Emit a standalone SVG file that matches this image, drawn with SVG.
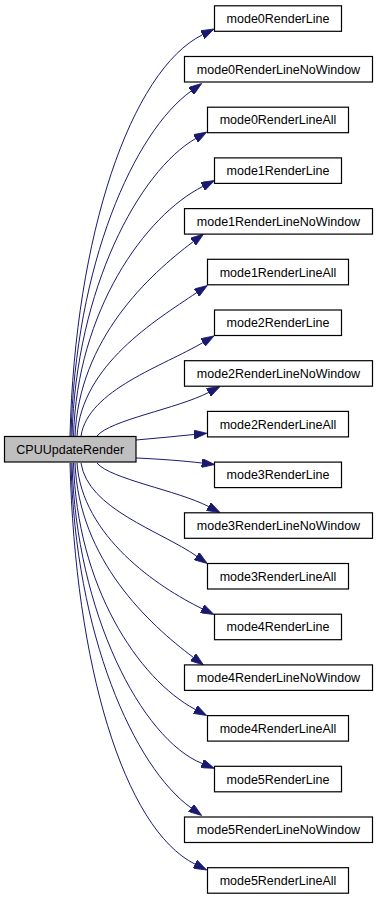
<svg xmlns="http://www.w3.org/2000/svg" width="377" height="899" viewBox="0 0 377 899">
  <style>
    .node rect { fill: #ffffff; stroke: #000000; stroke-width: 1.2; }
    .node.root rect { fill: #bfbfbf; }
    .node text { font-family: "Liberation Sans", Arial, sans-serif; font-size: 12.5px; fill: #000000; text-anchor: middle; }
    .edges path { fill: none; stroke: #191970; stroke-width: 1; marker-end: url(#arrow); }
  </style>
  <defs>
    <marker id="arrow" markerUnits="userSpaceOnUse" viewBox="0 0 14 9" markerWidth="14" markerHeight="9" refX="0" refY="4.5" orient="auto">
      <path d="M0,0 L13,4.5 L0,9 Z" fill="#191970" stroke="#191970" stroke-width="0.8"/>
    </marker>
  </defs>
  <rect width="377" height="899" fill="#ffffff"/>

  <!-- call edges -->
  <g id="edges" class="edges">
    <path d="M70,436 C75,235 130.9,70.6 202.4,34.8"/>
    <path d="M71,436 C75,264 134.3,131.9 191.1,91.1"/>
    <path d="M72,436 C76,288 139.3,171.4 195.5,138.6"/>
    <path d="M73.5,436 C77,311 144.9,215.6 202.9,186.4"/>
    <path d="M75,436 C79,339 149.1,274.8 193.1,241.8"/>
    <path d="M77,436 C82,365 155,320.7 196.5,292.8"/>
    <path d="M81,436 C88,390 164.1,365.6 202.8,342.6"/>
    <path d="M97,436 C110,420 177.5,408.6 208.5,392.5"/>
    <path d="M136,440 C155,438.5 175,436.3 193.9,434.5"/>
    <path d="M136,458 C160,459 185,461 201.8,463"/>
    <path d="M97,463 C110,479 177.5,490.4 208.5,506.5"/>
    <path d="M81,463 C88,509 159.7,530.5 196.6,556.1"/>
    <path d="M77,463 C82,536 157.4,586.9 202.3,608.8"/>
    <path d="M75,463 C79,560 149.1,624.2 193.1,657.2"/>
    <path d="M73.5,463 C77,586 137.9,678.8 195.2,709.4"/>
    <path d="M72,463 C76,613 141.8,739.4 202.2,763.5"/>
    <path d="M71,463 C75,635 134.3,767.1 191.1,807.9"/>
    <path d="M70,463 C75,664 123.6,828.4 195.1,864.2"/>
  </g>

  <g id="CPUUpdateRender" class="node root">
    <rect x="4.5" y="436.5" width="131.5" height="25.5"/>
    <text x="70.2" y="454">CPUUpdateRender</text>
  </g>

  <g id="mode0RenderLine" class="node">
    <rect x="214.5" y="5.8" width="127" height="25.5"/>
    <text x="278" y="23">mode0RenderLine</text>
  </g>
  <g id="mode0RenderLineNoWindow" class="node">
    <rect x="184.5" y="56.5" width="188" height="25.5"/>
    <text x="278.5" y="73.7">mode0RenderLineNoWindow</text>
  </g>
  <g id="mode0RenderLineAll" class="node">
    <rect x="207.5" y="107.2" width="141" height="25.5"/>
    <text x="278" y="124.4">mode0RenderLineAll</text>
  </g>

  <g id="mode1RenderLine" class="node">
    <rect x="214.5" y="157.9" width="127" height="25.5"/>
    <text x="278" y="175.1">mode1RenderLine</text>
  </g>
  <g id="mode1RenderLineNoWindow" class="node">
    <rect x="184.5" y="208.6" width="188" height="25.5"/>
    <text x="278.5" y="225.8">mode1RenderLineNoWindow</text>
  </g>
  <g id="mode1RenderLineAll" class="node">
    <rect x="207.5" y="259.3" width="141" height="25.5"/>
    <text x="278" y="276.5">mode1RenderLineAll</text>
  </g>

  <g id="mode2RenderLine" class="node">
    <rect x="214.5" y="310" width="127" height="25.5"/>
    <text x="278" y="327.2">mode2RenderLine</text>
  </g>
  <g id="mode2RenderLineNoWindow" class="node">
    <rect x="184.5" y="360.7" width="188" height="25.5"/>
    <text x="278.5" y="377.9">mode2RenderLineNoWindow</text>
  </g>
  <g id="mode2RenderLineAll" class="node">
    <rect x="207.5" y="411.4" width="141" height="25.5"/>
    <text x="278" y="428.6">mode2RenderLineAll</text>
  </g>

  <g id="mode3RenderLine" class="node">
    <rect x="214.5" y="462.1" width="127" height="25.5"/>
    <text x="278" y="479.3">mode3RenderLine</text>
  </g>
  <g id="mode3RenderLineNoWindow" class="node">
    <rect x="184.5" y="512.8" width="188" height="25.5"/>
    <text x="278.5" y="530">mode3RenderLineNoWindow</text>
  </g>
  <g id="mode3RenderLineAll" class="node">
    <rect x="207.5" y="563.5" width="141" height="25.5"/>
    <text x="278" y="580.7">mode3RenderLineAll</text>
  </g>

  <g id="mode4RenderLine" class="node">
    <rect x="214.5" y="614.2" width="127" height="25.5"/>
    <text x="278" y="631.4">mode4RenderLine</text>
  </g>
  <g id="mode4RenderLineNoWindow" class="node">
    <rect x="184.5" y="664.9" width="188" height="25.5"/>
    <text x="278.5" y="682.1">mode4RenderLineNoWindow</text>
  </g>
  <g id="mode4RenderLineAll" class="node">
    <rect x="207.5" y="715.6" width="141" height="25.5"/>
    <text x="278" y="732.8">mode4RenderLineAll</text>
  </g>

  <g id="mode5RenderLine" class="node">
    <rect x="214.5" y="766.3" width="127" height="25.5"/>
    <text x="278" y="783.5">mode5RenderLine</text>
  </g>
  <g id="mode5RenderLineNoWindow" class="node">
    <rect x="184.5" y="817" width="188" height="25.5"/>
    <text x="278.5" y="834.2">mode5RenderLineNoWindow</text>
  </g>
  <g id="mode5RenderLineAll" class="node">
    <rect x="207.5" y="867.7" width="141" height="25.5"/>
    <text x="278" y="884.9">mode5RenderLineAll</text>
  </g>
</svg>
